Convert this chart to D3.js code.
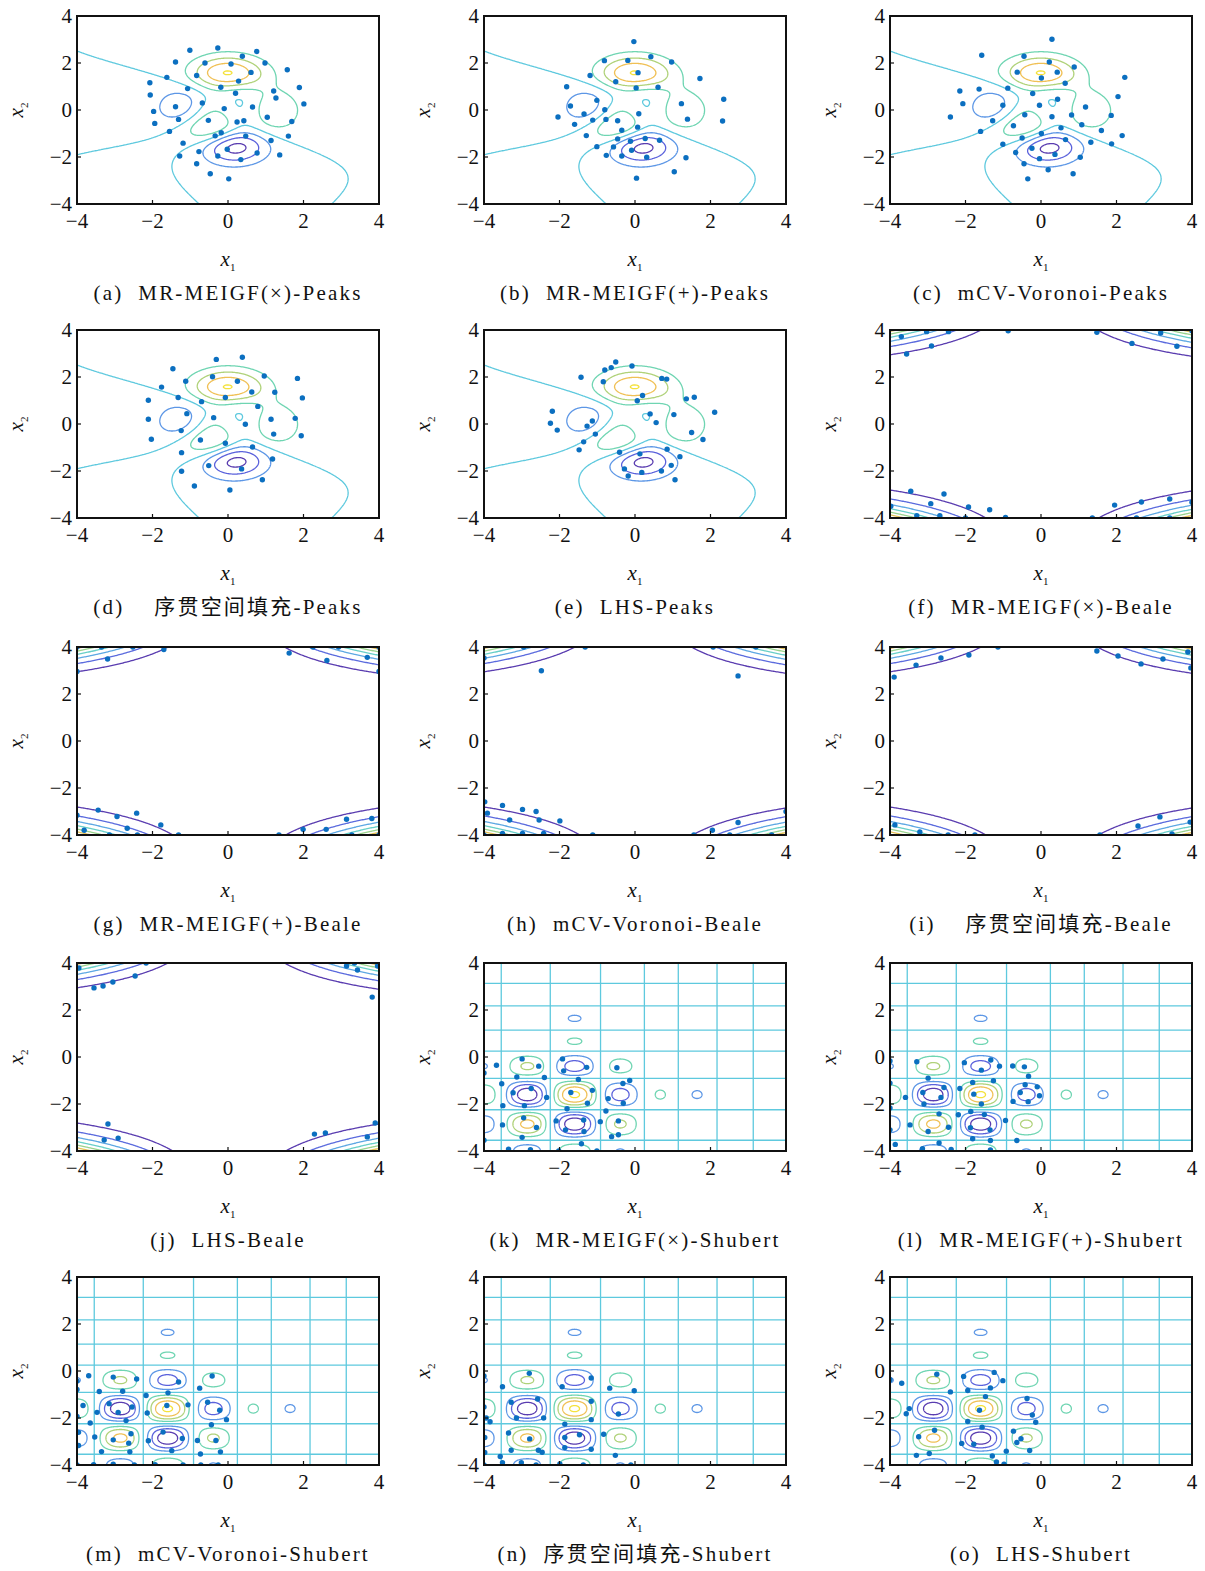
<!DOCTYPE html>
<html>
<head>
<meta charset="utf-8">
<script src="https://cdn.jsdelivr.net/npm/d3@7"></script>
<style>
  body { margin: 0; background: #fff; }
  text { font-family: "Liberation Serif", "Times New Roman", "Noto Sans CJK SC", serif; fill: #111; }
</style>
</head>
<body>
<div id="fig"></div>
<script>
// tick values and captions
const ticks = [-4, -2, 0, 2, 4];
const captions = [
  '(a)  MR-MEIGF(×)-Peaks', '(b)  MR-MEIGF(+)-Peaks', '(c)  mCV-Voronoi-Peaks',
  '(d)    序贯空间填充-Peaks', '(e)  LHS-Peaks', '(f)  MR-MEIGF(×)-Beale',
  '(g)  MR-MEIGF(+)-Beale', '(h)  mCV-Voronoi-Beale', '(i)    序贯空间填充-Beale',
  '(j)  LHS-Beale', '(k)  MR-MEIGF(×)-Shubert', '(l)  MR-MEIGF(+)-Shubert',
  '(m)  mCV-Voronoi-Shubert', '(n)  序贯空间填充-Shubert', '(o)  LHS-Shubert'
];

// contour levels
const peaksLevels = [-6, -4, -2, 0, 2, 4, 6, 8];
const bealeLevels = [10000, 20000, 30000, 40000, 50000, 60000, 70000];
const shubertLevels = [-150, -100, -50, 0, 50, 100, 150, 200];
const palette = ['#5a3db0', '#5b62dc', '#5d97e6', '#5ec9de', '#6fd5b2', '#b0d27a', '#f0c055', '#f4e23c'];

// sample points [x1, x2]
const ptsA = [[-0.27,2.64],[-1.01,2.54],[0.76,2.49],[-1.39,2.04],[-0.61,2.0],[0.08,1.96],[0.38,2.29],[0.98,2.0],[1.57,1.71],[0.61,1.6],[-0.83,1.47],[-1.62,1.39],[0.28,1.23],[-2.07,1.16],[-0.19,0.97],[-1.07,0.91],[1.89,0.96],[1.21,0.81],[0.2,0.71],[1.27,0.51],[-2.06,0.64],[-0.68,0.3],[2.01,0.26],[-1.39,0.14],[-0.1,0.06],[0.65,0.13],[-1.97,-0.06],[-1.31,-0.4],[-0.52,-0.44],[0.24,-0.51],[0.42,-0.46],[1.04,-0.31],[1.69,-0.49],[-1.94,-0.57],[-1.55,-0.91],[-0.18,-0.97],[-0.34,-1.1],[0.47,-1.11],[1.6,-1.11],[1.14,-1.3],[-1.19,-1.41],[-0.02,-1.67],[-0.77,-1.77],[0.77,-1.83],[-0.27,-1.96],[-1.28,-1.96],[1.37,-1.91],[0.34,-2.11],[-0.83,-2.29],[-0.47,-2.71],[0.02,-2.93]];
const ptsB = [[-0.03,2.91],[-0.81,2.1],[-0.19,2.11],[0.42,2.27],[0.97,2.04],[0.08,1.59],[-1.19,1.47],[-0.51,1.2],[1.72,1.34],[-1.81,0.99],[0.03,0.94],[0.61,0.97],[-1.01,0.41],[-1.71,0.17],[1.23,0.27],[2.35,0.46],[-0.8,0.01],[-1.35,-0.17],[0.1,-0.16],[-2.04,-0.3],[-1.12,-0.43],[-0.77,-0.4],[-0.46,-0.46],[1.39,-0.39],[2.32,-0.47],[-1.6,-0.61],[0.07,-0.73],[-0.35,-0.86],[-1.29,-1.09],[-0.46,-1.23],[-0.12,-1.33],[0.27,-1.21],[0.65,-1.29],[-1.01,-1.56],[-0.57,-1.57],[-0.09,-1.71],[-0.76,-1.93],[-0.35,-1.96],[0.31,-2.01],[1.35,-2.03],[1.04,-2.63],[0.04,-2.9]];
const ptsC = [[0.29,3.01],[-1.57,2.33],[-0.45,2.29],[0.22,2.04],[0.88,1.83],[-0.63,1.61],[0.43,1.61],[0.01,1.36],[0.64,1.14],[2.22,1.39],[-0.88,0.93],[-1.64,0.89],[-2.15,0.81],[-0.22,0.7],[2.04,0.57],[0.44,0.46],[-2.07,0.27],[-1.01,0.2],[-0.04,0.2],[1.18,0.13],[-2.4,-0.3],[-0.43,-0.2],[0.29,-0.29],[0.81,-0.21],[1.86,-0.23],[-1.28,-0.46],[1.08,-0.63],[-0.73,-0.67],[0.53,-0.76],[1.6,-0.87],[-1.6,-0.91],[0.01,-1.0],[-0.5,-1.19],[2.15,-1.09],[0.65,-1.26],[1.32,-1.37],[-1.01,-1.46],[1.87,-1.44],[-0.24,-1.63],[-0.67,-1.81],[0.37,-1.89],[-0.04,-2.07],[1.04,-2.01],[-0.45,-2.29],[0.19,-2.54],[0.85,-2.71],[-0.35,-2.93]];
const ptsD = [[-0.31,2.75],[0.38,2.84],[-1.46,2.35],[-0.41,2.01],[0.96,2.04],[1.84,1.94],[-1.12,1.82],[0.25,1.82],[-1.76,1.57],[0.63,1.36],[1.24,1.35],[-1.32,1.13],[-0.07,1.13],[-2.11,1.01],[-0.7,0.95],[1.97,1.11],[0.79,0.75],[-1.09,0.44],[-2.11,0.2],[-0.38,0.27],[1.14,0.2],[1.78,0.24],[0.46,-0.01],[-1.24,-0.28],[1.21,-0.43],[1.94,-0.5],[-2.03,-0.65],[-0.73,-0.68],[-0.07,-0.82],[0.65,-0.98],[-1.23,-1.22],[1.18,-1.49],[-0.51,-1.77],[0.36,-1.91],[-1.23,-2.01],[0.91,-2.37],[-0.89,-2.64],[0.05,-2.81]];
const ptsE = [[-0.51,2.64],[-0.63,2.4],[-0.8,2.3],[-0.08,2.47],[-1.43,1.99],[-0.84,1.8],[0.71,1.94],[0.84,1.91],[0.2,1.21],[0.06,0.99],[1.36,1.07],[1.57,1.14],[-2.19,0.54],[0.4,0.43],[1.03,0.4],[2.11,0.5],[-2.24,0.03],[-1.13,0.13],[-1.27,-0.09],[0.56,0.06],[-2.06,-0.26],[-1.05,-0.43],[1.5,-0.36],[-1.36,-0.76],[1.8,-0.66],[-1.48,-1.1],[-0.41,-1.2],[0.13,-1.27],[0.85,-1.07],[1.19,-1.39],[0.96,-1.76],[-0.28,-1.91],[0.18,-2.06],[0.7,-2.0],[-0.18,-2.21],[1.06,-2.37]];
const ptsF = [[-3.7,3.72],[-3.03,3.93],[-2.45,3.93],[-0.87,3.97],[-3.56,2.98],[-2.9,3.32],[1.48,3.9],[2.41,3.43],[3.17,3.87],[3.6,3.31],[4.0,3.97],[-3.45,-2.86],[-2.57,-2.98],[-2.92,-3.39],[-1.92,-3.53],[-1.36,-3.65],[-3.98,-3.5],[-3.29,-3.9],[-2.68,-3.9],[-2.0,-4.0],[-0.94,-3.98],[1.36,-4.0],[1.95,-3.45],[2.66,-3.32],[3.41,-3.19],[4.0,-3.33],[2.53,-4.0],[3.41,-4.0]];
const ptsG = [[-4.0,4.0],[-3.35,4.0],[-2.52,4.0],[-4.0,2.96],[-3.19,3.49],[-1.7,3.89],[1.62,3.74],[2.25,4.0],[2.93,4.0],[2.62,3.43],[3.69,3.56],[4.0,4.0],[4.0,2.96],[-3.44,-2.94],[-4.0,-3.16],[-2.94,-3.21],[-2.42,-3.07],[-3.81,-3.8],[-2.67,-3.71],[-1.78,-3.57],[-3.14,-4.0],[-2.4,-4.0],[-1.31,-4.0],[1.35,-4.0],[1.99,-3.76],[2.6,-3.76],[3.14,-3.33],[3.81,-3.3],[3.28,-4.0],[4.0,-4.0]];
const ptsH = [[-4.0,3.53],[-2.95,4.0],[-2.48,2.99],[-1.32,4.0],[2.07,4.0],[3.2,4.0],[2.73,2.77],[-3.98,-2.59],[-3.91,-3.07],[-3.51,-2.74],[-2.98,-2.91],[-2.62,-3.0],[-3.32,-3.36],[-2.54,-3.36],[-1.99,-3.4],[-3.51,-3.93],[-2.98,-3.93],[-2.42,-3.93],[-4.0,-4.0],[-1.12,-4.0],[1.56,-4.0],[2.05,-3.8],[2.51,-4.0],[2.73,-3.47],[3.62,-4.0],[4.0,-3.0]];
const ptsI = [[-3.89,2.72],[-3.31,3.23],[-2.65,3.53],[-1.91,3.66],[-1.14,4.0],[1.48,3.83],[2.04,3.62],[2.65,3.28],[3.23,3.49],[3.89,3.79],[3.97,3.11],[-3.87,-3.57],[-3.21,-3.87],[-2.46,-4.0],[-1.75,-4.0],[1.56,-4.0],[2.57,-3.62],[3.15,-3.23],[3.95,-3.45],[3.47,-3.96]];
const ptsJ = [[-3.95,3.79],[-3.55,2.94],[-3.31,3.02],[-3.05,3.19],[-2.46,3.45],[-2.17,4.0],[3.14,3.87],[3.43,3.7],[3.96,3.87],[3.82,2.55],[3.35,4.0],[-3.18,-2.85],[-3.28,-3.53],[-2.91,-3.45],[2.29,-3.28],[2.58,-3.23],[3.69,-3.4],[3.9,-2.81]];
const ptsK = [[-2.99,-0.08],[-2.55,-0.39],[-3.67,-0.35],[-4.0,-0.68],[-1.92,-0.08],[-1.89,-0.59],[-1.28,-0.44],[-3.13,-0.85],[-2.4,-0.87],[-1.5,-0.96],[-0.48,-0.46],[-3.53,-1.14],[-3.23,-1.52],[-2.75,-1.34],[-2.34,-1.72],[-2.93,-2.07],[-3.5,-2.07],[-1.7,-1.51],[-1.13,-1.42],[-1.26,-1.97],[-1.8,-2.2],[-0.32,-1.13],[-0.14,-1.0],[-0.71,-1.77],[-0.31,-1.97],[-0.77,-2.3],[-3.51,-2.89],[-2.95,-2.59],[-2.61,-3.0],[-2.99,-3.42],[-2.09,-2.72],[-1.84,-3.1],[-1.36,-2.68],[-1.35,-3.17],[-0.92,-2.75],[-0.44,-2.72],[-0.44,-3.31],[-0.62,-3.39],[-1.42,-3.69],[-4.0,-3.54],[-3.35,-3.92],[-2.77,-3.94],[-2.02,-4.0],[-1.01,-4.0]];
const ptsL = [[-4.0,-0.17],[-3.29,-0.2],[-2.03,-0.24],[-1.33,-0.13],[-1.1,-0.39],[-1.58,-0.56],[-0.75,-0.38],[-0.44,-0.42],[-0.33,-0.82],[-2.99,-0.9],[-4.0,-1.11],[-2.15,-1.34],[-1.81,-1.08],[-1.26,-1.01],[-3.13,-1.51],[-2.57,-1.3],[-2.65,-1.72],[-3.59,-1.72],[-3.1,-2.0],[-1.78,-1.58],[-1.58,-2.0],[-0.42,-1.18],[-0.1,-1.27],[-0.55,-1.51],[-0.04,-1.65],[-0.74,-1.89],[-0.34,-1.9],[-4.0,-2.17],[-2.7,-2.42],[-3.47,-2.89],[-2.45,-2.99],[-2.99,-3.17],[-2.19,-2.46],[-1.86,-2.32],[-1.5,-2.45],[-0.94,-2.7],[-1.87,-3.01],[-1.35,-3.1],[-4.0,-3.1],[-1.81,-3.48],[-1.34,-3.55],[-0.64,-3.55],[-2.7,-3.66],[-3.86,-3.72],[-3.14,-3.9],[-2.38,-3.93],[-1.34,-3.96]];
const ptsM = [[-4.0,-0.43],[-3.69,-0.2],[-3.04,-0.26],[-2.42,-0.34],[-2.79,-0.86],[-3.41,-0.87],[-4.0,-0.79],[-2.17,-1.04],[-1.59,-0.93],[-1.31,-0.47],[-0.75,-0.73],[-0.42,-0.21],[-3.84,-1.47],[-3.15,-1.39],[-2.91,-1.76],[-2.54,-1.53],[-3.47,-1.76],[-2.7,-2.11],[-3.65,-2.21],[-4.0,-1.93],[-1.62,-1.47],[-2.14,-1.79],[-1.06,-1.44],[-0.54,-1.33],[-0.22,-1.67],[-0.04,-2.07],[-0.44,-2.29],[-3.96,-2.61],[-3.53,-2.81],[-3.04,-2.93],[-2.57,-2.67],[-2.63,-3.07],[-3.96,-3.17],[-3.35,-3.43],[-2.6,-3.44],[-2.11,-2.97],[-1.72,-2.6],[-1.49,-3.39],[-1.21,-2.87],[-0.81,-2.96],[-0.32,-2.96],[-0.2,-3.44],[-0.73,-3.53],[-3.56,-3.99],[-3.04,-3.97],[-2.48,-4.0],[-1.93,-3.99],[-1.19,-4.0],[-0.72,-4.0],[-0.26,-4.0],[-4.0,-4.0]];
const ptsN = [[-4.0,-0.21],[-2.8,-0.1],[-3.51,-0.67],[-1.93,-0.67],[-1.16,-0.3],[-0.67,-0.73],[-0.02,-0.84],[-4.0,-1.53],[-3.28,-1.33],[-2.58,-1.19],[-3.14,-2.0],[-2.42,-2.0],[-1.86,-2.26],[-1.16,-1.29],[-1.16,-2.07],[-0.44,-1.83],[-3.94,-2.0],[-3.84,-2.16],[-3.35,-2.64],[-2.79,-2.89],[-3.98,-2.83],[-3.28,-3.37],[-2.56,-3.37],[-1.86,-2.83],[-1.86,-3.26],[-1.47,-2.71],[-1.16,-3.33],[-0.83,-2.69],[-2.46,-3.46],[-3.98,-3.47],[-3.57,-3.64],[-0.52,-3.59],[-1.99,-3.96],[-3.51,-3.9],[-3.01,-3.9],[-2.62,-4.0],[-1.37,-4.0],[-0.11,-4.0],[-4.0,-4.0]];
const ptsO = [[-2.76,-0.14],[-3.69,-0.52],[-2.05,-0.23],[-1.24,-0.06],[-1.01,-0.41],[-1.34,-0.72],[-1.94,-0.83],[-2.4,-0.89],[-1.47,-1.09],[-3.49,-1.6],[-3.57,-1.82],[-1.63,-1.67],[-0.37,-1.17],[-0.23,-1.87],[-0.14,-2.18],[-1.94,-2.15],[-1.56,-2.39],[-2.82,-2.52],[-3.24,-2.8],[-2.1,-3.08],[-1.78,-3.12],[-0.73,-2.56],[-0.53,-2.88],[-0.64,-3.04],[-0.3,-3.38],[-0.92,-3.41],[-2.96,-3.51],[-3.3,-3.59],[-1.29,-3.62],[-1.18,-3.87],[-0.98,-3.97],[-4.0,-0.37]];

// test functions
function peaks(x, y) {
  return 3 * (1 - x) ** 2 * Math.exp(-(x * x) - (y + 1) ** 2)
    - 10 * (x / 5 - x ** 3 - y ** 5) * Math.exp(-(x * x) - y * y)
    - Math.exp(-((x + 1) ** 2) - y * y) / 3;
}
function beale(x, y) {
  return (1.5 - x + x * y) ** 2 + (2.25 - x + x * y * y) ** 2 + (2.625 - x + x * y ** 3) ** 2;
}
function shub1(x) {
  let s = 0;
  for (let i = 1; i <= 5; i++) s += i * Math.cos((i + 1) * x + i);
  return s;
}
function shubert(x, y) { return shub1(x / 2) * shub1(y / 2); }

// sample a function on a grid a bit larger than the plot, then clip
const lo = -4.2, hi = 4.2;
function makeContours(f, step, levels) {
  const n = Math.round((hi - lo) / step) + 1;
  const values = new Float64Array(n * n);
  for (let j = 0; j < n; j++)
    for (let i = 0; i < n; i++)
      values[j * n + i] = f(lo + i * step, lo + j * step);
  const polys = d3.contours().size([n, n]).thresholds(levels)(values);
  return { step, polys, levels };
}
const colorAt = d3.piecewise(d3.interpolateRgb, palette);

const peaksC = makeContours(peaks, 0.03, peaksLevels);
const bealeC = makeContours(beale, 0.03, bealeLevels);
const shubertC = makeContours(shubert, 0.015, shubertLevels);

const panels = [
  { c: peaksC, pts: ptsA }, { c: peaksC, pts: ptsB }, { c: peaksC, pts: ptsC },
  { c: peaksC, pts: ptsD }, { c: peaksC, pts: ptsE }, { c: bealeC, pts: ptsF },
  { c: bealeC, pts: ptsG }, { c: bealeC, pts: ptsH }, { c: bealeC, pts: ptsI },
  { c: bealeC, pts: ptsJ }, { c: shubertC, pts: ptsK }, { c: shubertC, pts: ptsL },
  { c: shubertC, pts: ptsM }, { c: shubertC, pts: ptsN }, { c: shubertC, pts: ptsO }
];

// layout
const colLeft = [77, 484, 890];
const rowTop = [16, 330, 647, 963, 1277];
const plotW = 302, plotH = 188;

const svg = d3.select('#fig').append('svg')
  .attr('width', 1205).attr('height', 1571);

panels.forEach((p, k) => {
  const left = colLeft[k % 3], top = rowTop[Math.floor(k / 3)];
  const xs = d3.scaleLinear().domain([-4, 4]).range([left, left + plotW]);
  const ys = d3.scaleLinear().domain([-4, 4]).range([top + plotH, top]);
  const g = svg.append('g');

  g.append('clipPath').attr('id', 'clip' + k)
    .append('rect').attr('x', left).attr('y', top).attr('width', plotW).attr('height', plotH);

  const step = p.c.step;
  const proj = d3.geoTransform({
    point: function (px, py) {
      this.stream.point(xs(lo + (px - 0.5) * step), ys(lo + (py - 0.5) * step));
    }
  });
  const path = d3.geoPath(proj);
  const nl = p.c.levels.length;

  const cg = g.append('g').attr('clip-path', `url(#clip${k})`);
  cg.selectAll('path.lev').data(p.c.polys).enter().append('path')
    .attr('class', 'lev')
    .attr('d', path)
    .attr('fill', 'none')
    .attr('stroke', (d, i) => colorAt(i / (nl - 1)))
    .attr('stroke-width', 1.3);

  cg.selectAll('circle').data(p.pts).enter().append('circle')
    .attr('cx', d => xs(d[0]))
    .attr('cy', d => ys(d[1]))
    .attr('r', 2.7)
    .attr('fill', '#0b6fc0');

  // frame
  g.append('rect').attr('x', left).attr('y', top).attr('width', plotW).attr('height', plotH)
    .attr('fill', 'none').attr('stroke', '#111').attr('stroke-width', 2);

  // inward ticks
  const inner = ticks.slice(1, -1);
  g.selectAll('line.tx').data(inner).enter().append('line')
    .attr('x1', d => xs(d)).attr('x2', d => xs(d))
    .attr('y1', top + plotH).attr('y2', top + plotH - 4)
    .attr('stroke', '#111').attr('stroke-width', 1.2);
  g.selectAll('line.ty').data(inner).enter().append('line')
    .attr('y1', d => ys(d)).attr('y2', d => ys(d))
    .attr('x1', left).attr('x2', left + 4)
    .attr('stroke', '#111').attr('stroke-width', 1.2);

  // tick labels
  const fmt = d => (d < 0 ? '\u2212' + Math.abs(d) : String(d));
  g.selectAll('text.xt').data(ticks).enter().append('text')
    .attr('x', d => xs(d)).attr('y', top + plotH + 24)
    .attr('text-anchor', 'middle').attr('font-size', 21)
    .text(fmt);
  g.selectAll('text.yt').data(ticks).enter().append('text')
    .attr('x', left - 5).attr('y', d => ys(d) + 7)
    .attr('text-anchor', 'end').attr('font-size', 21)
    .text(fmt);

  // axis titles
  const xl = g.append('text')
    .attr('x', left + plotW / 2).attr('y', top + plotH + 62)
    .attr('text-anchor', 'middle').attr('font-size', 21);
  xl.append('tspan').attr('font-style', 'italic').text('x');
  xl.append('tspan').attr('font-size', 11).attr('dy', 5).text('1');

  const yl = g.append('text')
    .attr('transform', `translate(${left - 54},${top + plotH / 2}) rotate(-90)`)
    .attr('text-anchor', 'middle').attr('font-size', 21);
  yl.append('tspan').attr('font-style', 'italic').text('x');
  yl.append('tspan').attr('font-size', 11).attr('dy', 5).text('2');

  // caption
  g.append('text')
    .attr('x', left + plotW / 2).attr('y', top + 284)
    .attr('text-anchor', 'middle').attr('font-size', 21)
    .attr('letter-spacing', 2.2)
    .style('white-space', 'pre')
    .text(captions[k]);
});
</script>
</body>
</html>
